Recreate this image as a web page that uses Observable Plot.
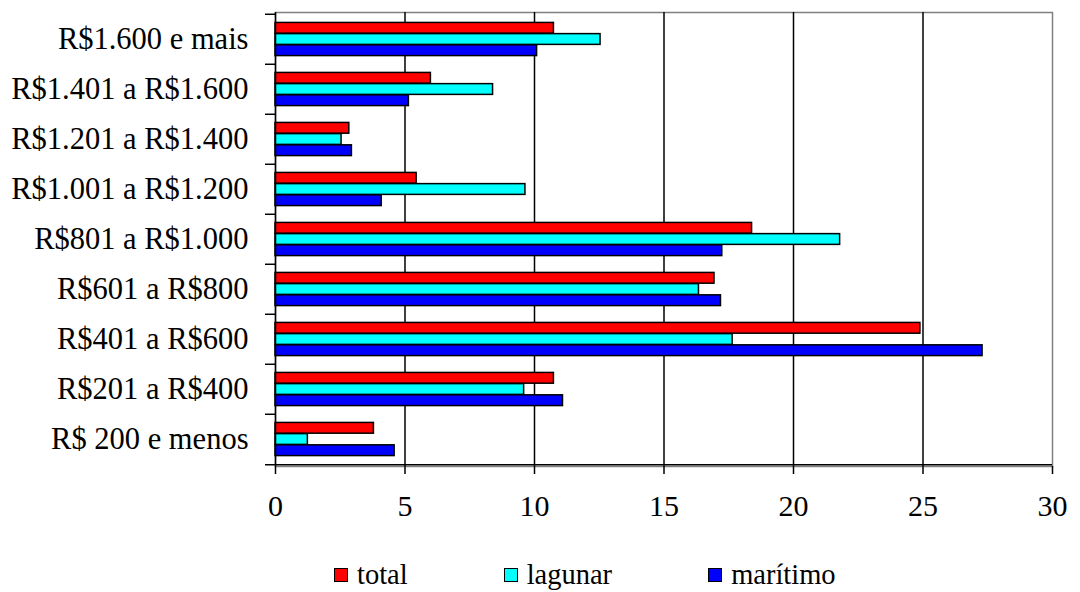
<!DOCTYPE html>
<html><head><meta charset="utf-8">
<script src="https://cdn.jsdelivr.net/npm/d3@7"></script>
<script src="https://cdn.jsdelivr.net/npm/@observablehq/plot@0.6"></script>
<style>
body{margin:0;background:#fff;}
#wrap{position:relative;width:1080px;height:592px;overflow:hidden;}
#wrap svg{position:absolute;left:0;top:0;}
#legend{position:absolute;left:334px;top:560px;height:30px;display:flex;align-items:center;font-size:28.5px;line-height:1;color:#000;}
.item{display:flex;align-items:center;margin-right:96px;}
.sw{display:inline-block;width:12px;height:12px;border:1.5px solid #000;margin-right:9px;}
</style></head><body><div id="wrap"></div>
<script>
const categories = ["R$1.600 e mais","R$1.401 a R$1.600","R$1.201 a R$1.400","R$1.001 a R$1.200","R$801 a R$1.000","R$601 a R$800","R$401 a R$600","R$201 a R$400","R$ 200 e menos"];
const series = ["total","lagunar","marítimo"];
const colors = ["#ff0000","#00ffff","#0000ff"];
const total = [10.75,6.0,2.85,5.45,18.4,16.95,24.9,10.75,3.8];
const lagunar = [12.55,8.4,2.55,9.65,21.8,16.35,17.65,9.6,1.25];
const maritimo = [10.1,5.15,2.95,4.1,17.25,17.2,27.3,11.1,4.6];
const xTicks = [0,5,10,15,20,25,30];
const gridTicks = [5,10,15,20,25];

const FONT = "'Liberation Serif', 'Times New Roman', serif";
const W=1080,H=530,mT=12,mB=64,mL=275,mR=28;
const band=(H-mT-mB)/categories.length;
const barH=11.2;
const inset=(band-barH)/2;
const offsets=[-barH,0,barH];
const valuesBySeries=[total,lagunar,maritimo];
const rows=series.flatMap((s,i)=>categories.map((c,j)=>({cat:c,series:s,value:valuesBySeries[i][j]})));

const chart=Plot.plot({
  width:W,height:H,marginTop:mT,marginBottom:mB,marginLeft:mL,marginRight:mR,
  style:{fontFamily:FONT,fontSize:"29px",color:"#000",background:"#fff"},
  x:{domain:[0,30]},
  y:{domain:categories,padding:0},
  color:{domain:series,range:colors},
  marks:[
    Plot.frame({stroke:"#808080",strokeWidth:1.5}),
    Plot.ruleX(gridTicks,{stroke:"#000",strokeWidth:1.5}),
    ...series.map((s,i)=>Plot.barX(rows.filter(r=>r.series===s),{x:"value",y:"cat",fill:"series",stroke:"#000",strokeWidth:1.5,insetTop:inset,insetBottom:inset,dy:offsets[i]})),
    Plot.ruleX([0],{stroke:"#000",strokeWidth:1.5}),
    Plot.ruleY([categories[categories.length-1]],{y:d=>d,x1:0,x2:30,insetLeft:-10,dy:band/2,stroke:"#000",strokeWidth:1.5}),
    Plot.ruleY(categories,{y:d=>d,x1:0,x2:0,insetLeft:-10,dy:-band/2,stroke:"#000",strokeWidth:1.5}),
    Plot.axisX(xTicks,{tickSize:8,tickPadding:20,fontSize:30,strokeWidth:1.5,label:null}),
    Plot.axisY({tickSize:0,tickPadding:27,fontSize:30.5,label:null})
  ]
});
chart.style.fontFamily=FONT;
chart.querySelectorAll("g, text, tspan").forEach(el=>{el.style.fontFamily=FONT;});
const wrap=document.getElementById("wrap");
wrap.appendChild(chart);
const legend=document.createElement("div");
legend.id="legend";
legend.style.fontFamily=FONT;
series.forEach((s,i)=>{
  const it=document.createElement("div");it.className="item";
  const sw=document.createElement("span");sw.className="sw";sw.style.background=colors[i];
  const t=document.createElement("span");t.textContent=s;t.style.fontFamily=FONT;
  it.appendChild(sw);it.appendChild(t);legend.appendChild(it);
});
wrap.appendChild(legend);
</script></body></html>
